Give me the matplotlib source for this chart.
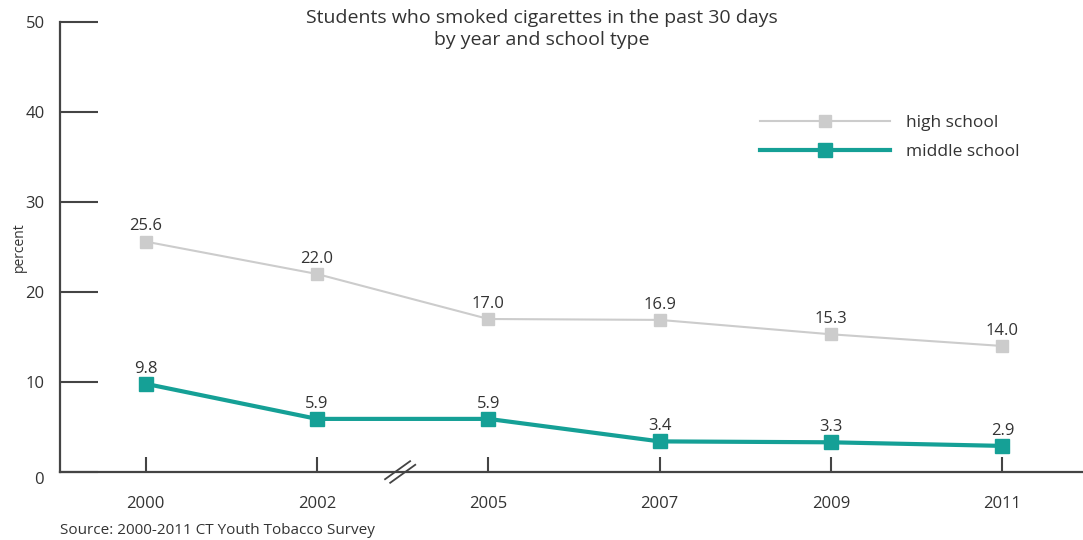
import matplotlib
matplotlib.use('Agg')
import matplotlib.pyplot as plt
import numpy as np

plt.rcParams['font.family'] = ['Open Sans', 'DejaVu Sans']

years = ['2000', '2002', '2005', '2007', '2009', '2011']
high_school = [25.6, 22.0, 17.0, 16.9, 15.3, 14.0]
middle_school = [9.8, 5.9, 5.9, 3.4, 3.3, 2.9]
y_ticks = [0, 10, 20, 30, 40, 50]

grey = '#cccccc'
teal = '#15a096'
txt = '#333333'
axc = '#444444'

fig = plt.figure(figsize=(10.83, 5.4), dpi=100)
ax = fig.add_axes([60 / 1083, 68 / 540, 1023 / 1083, 450 / 540])

x = np.arange(len(years))
ax.plot(x, high_school, color=grey, lw=1.5, marker='s', ms=9, label='high school', zorder=3)
ax.plot(x, middle_school, color=teal, lw=3, marker='s', ms=10, label='middle school', zorder=3)

for xi, v in zip(x, high_school):
    ax.text(xi, v + 0.8, f'{v:.1f}', ha='center', va='bottom', fontsize=12, color=txt)
for xi, v in zip(x, middle_school):
    ax.text(xi, v + 0.8, f'{v:.1f}', ha='center', va='bottom', fontsize=12, color=txt)

ax.set_xlim(-0.5, 5.47)
ax.set_ylim(0, 50)
ax.set_yticks(y_ticks)
# the 0 label sits a little lower in the original, drawn separately
ax.set_yticklabels([''] + [str(t) for t in y_ticks[1:]])
ax.annotate('0', xy=(0, 0), xycoords='axes fraction', xytext=(-16, -8),
            textcoords='offset pixels', ha='right', va='center', fontsize=12, color=txt)
ax.set_xticks(x)
ax.set_xticklabels(years)
ax.tick_params(axis='y', direction='in', length=27, width=1.5, color=axc,
               labelsize=12, labelcolor=txt, pad=11)
ax.tick_params(axis='x', direction='in', length=11, width=1.5, color=axc,
               labelsize=12, labelcolor=txt, pad=17)
ax.spines['top'].set_visible(False)
ax.spines['right'].set_visible(False)
for s in ['left', 'bottom']:
    ax.spines[s].set_color(axc)
    ax.spines[s].set_linewidth(1.6)

ax.set_ylabel('percent', fontsize=10, color=txt)
ax.yaxis.set_label_coords(-0.032, 0.5)

# axis break marks between 2002 and 2005
for cx, cy in [(1.47, 0.2), (1.50, -0.2)]:
    ax.plot([cx - 0.073, cx + 0.073], [cy - 1.0, cy + 1.0], color=axc, lw=1.3,
            clip_on=False, zorder=4)

ax.legend(loc='upper left', bbox_to_anchor=(0.684, 0.793), frameon=False,
          fontsize=12.5, handlelength=7.5, handletextpad=0.95, labelspacing=0.75,
          borderpad=0, borderaxespad=0, labelcolor=txt)

fig.text(0.5, 0.984, 'Students who smoked cigarettes in the past 30 days\nby year and school type',
         ha='center', va='top', fontsize=14, color=txt, linespacing=1.3)
fig.text(60 / 1083, 2 / 540, 'Source: 2000-2011 CT Youth Tobacco Survey', ha='left', va='bottom',
         fontsize=11, color=txt)

plt.savefig('out.png', dpi=100)
